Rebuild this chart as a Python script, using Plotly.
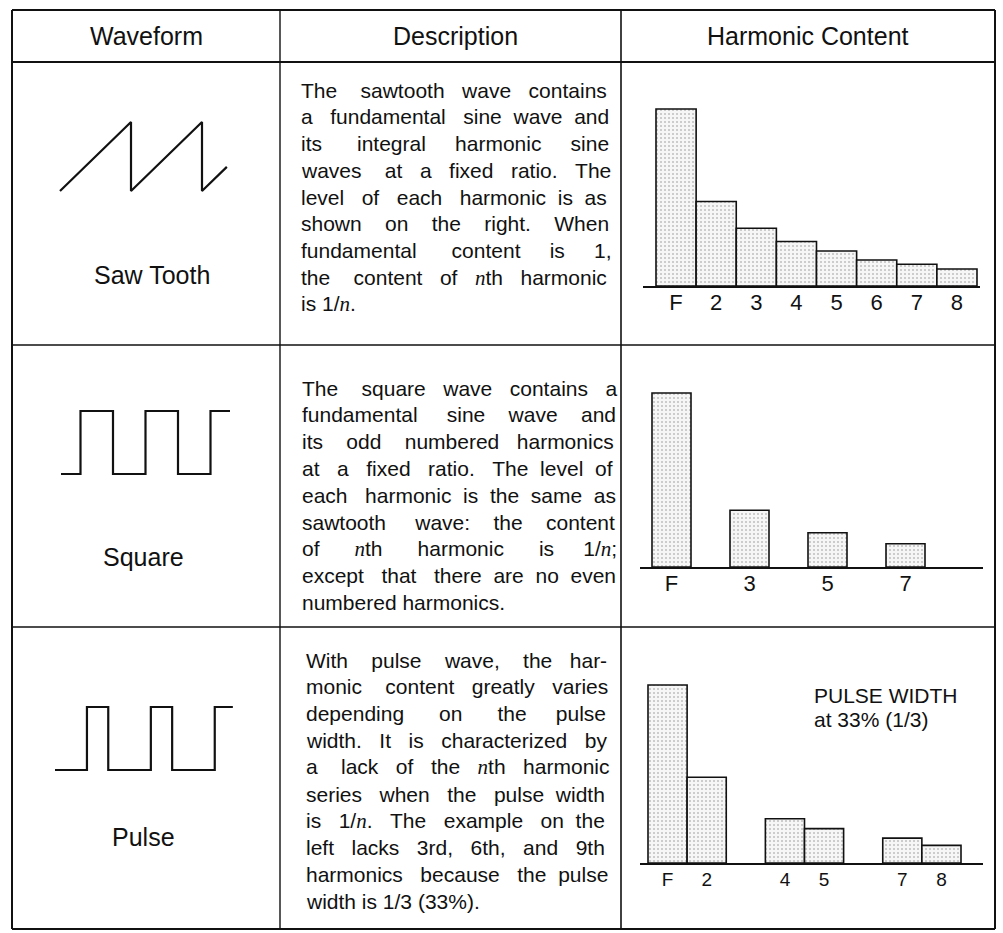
import plotly.graph_objects as go

# ---------------- data ----------------
headers = ["Waveform", "Description", "Harmonic Content"]
wave_names = ["Saw Tooth", "Square", "Pulse"]

saw_harm = [1, 2, 3, 4, 5, 6, 7, 8]
saw_labels = ["F", "2", "3", "4", "5", "6", "7", "8"]
saw_levels = [100, 47.7, 32.6, 25.1, 19.8, 14.7, 12.3, 9.6]

sq_harm = [1, 3, 5, 7]
sq_labels = ["F", "3", "5", "7"]
sq_levels = [100, 32.6, 19.7, 13.4]

pul_harm = [1, 2, 4, 5, 7, 8]
pul_labels = ["F", "2", "4", "5", "7", "8"]
pul_levels = [100, 48.2, 24.9, 19.3, 14.0, 9.9]

saw_t = [0, 1, 1, 2, 2, 2.35]
saw_v = [0, 1, 0, 1, 0, 0.35]
sq_t = [0, 0.6, 0.6, 1.6, 1.6, 2.6, 2.6, 3.6, 3.6, 4.6, 4.6, 5.2]
sq_v = [0, 0, 1, 1, 0, 0, 1, 1, 0, 0, 1, 1]
pul_t = [0, 1.5, 1.5, 2.5, 2.5, 4.5, 4.5, 5.5, 5.5, 7.5, 7.5, 8.35]
pul_v = [0, 0, 1, 1, 0, 0, 1, 1, 0, 0, 1, 1]

desc_saw = [
    "The sawtooth wave contains",
    "a fundamental sine wave and",
    "its integral harmonic sine",
    "waves at a fixed ratio. The",
    "level of each harmonic is as",
    "shown on the right. When",
    "fundamental content is 1,",
    "the content of {n}th harmonic",
    "is 1/{n}.",
]
desc_sq = [
    "The square wave contains a",
    "fundamental sine wave and",
    "its odd numbered harmonics",
    "at a fixed ratio. The level of",
    "each harmonic is the same as",
    "sawtooth wave: the content",
    "of {n}th harmonic is 1/{n};",
    "except that there are no even",
    "numbered harmonics.",
]
desc_pul = [
    "With pulse wave, the har-",
    "monic content greatly varies",
    "depending on the pulse",
    "width. It is characterized by",
    "a lack of the {n}th harmonic",
    "series when the pulse width",
    "is 1/{n}. The example on the",
    "left lacks 3rd, 6th, and 9th",
    "harmonics because the pulse",
    "width is 1/3 (33%).",
]
pulse_note = ["PULSE WIDTH", "at 33% (1/3)"]

# ---------------- layout helpers ----------------
W, H = 1003, 933
INK = "#111111"
FONT = "Liberation Sans"


def lin_range(d0, d1, a_px, a_val, b_px, b_val):
    s = (b_val - a_val) / (b_px - a_px)
    return [a_val + (d0 - a_px) * s, a_val + (d1 - a_px) * s]


def px_x(p):
    return p / W


def px_y(p):
    return 1 - p / H


ARIAL = {' ': 278, '!': 278, '(': 333, ')': 333, ',': 278, '-': 333, '.': 278,
         '/': 278, ':': 278, ';': 278, '%': 889, '\x00': 500}
for c in "0123456789":
    ARIAL[c] = 556
ARIAL.update(dict(zip("ABCDEFGHIJKLMNOPQRSTUVWXYZ",
                      [667, 667, 722, 722, 667, 611, 778, 722, 278, 500, 667, 556, 833,
                       722, 778, 667, 778, 722, 667, 611, 722, 667, 944, 667, 667, 611])))
ARIAL.update(dict(zip("abcdefghijklmnopqrstuvwxyz",
                      [556, 556, 500, 556, 556, 278, 556, 556, 222, 222, 500, 222, 833,
                       556, 556, 556, 556, 333, 500, 278, 556, 500, 722, 500, 500, 500])))


def twidth(s, size):
    return sum(ARIAL.get(c, 556) for c in s.replace("{n}", "\x00")) * size / 1000.0


ITAL_N = "<span style=\"font-family:'Liberation Serif';font-style:italic\">n</span>"


def justify(line, target, size, last):
    words = line.split(" ")
    gaps = len(words) - 1
    if gaps == 0 or last:
        out = line.replace(" ", "\u00a0")
    else:
        extra = target - twidth(line, size)
        k = max(0, int(round(extra / (278 * size / 1000.0))))
        out = words[0]
        for i, w in enumerate(words[1:]):
            n = 1 + k // gaps + (1 if i < k % gaps else 0)
            out += "\u00a0" * n + w
    return out.replace("{n}", ITAL_N)


fig = go.Figure()

# ---------------- bar charts ----------------
bar_sets = [
    (saw_harm, saw_levels, saw_labels, 22, -4,
     dict(dom=(643, 980), xa=(656, 0.5), xb=(977, 8.5), base=286, top=109, dtop=100)),
    (sq_harm, sq_levels, sq_labels, 22, -4,
     dict(dom=(640, 983), xa=(652, 0.5), xb=(925, 7.5), base=567, top=393, dtop=380)),
    (pul_harm, pul_levels, pul_labels, 19, -1,
     dict(dom=(640, 983), xa=(648, 0.5), xb=(961, 8.5), base=863, top=685, dtop=675)),
]

layout_axes = {}
for i, (hx, lv, lab, fsz, stand, g) in enumerate(bar_sets):
    n = i + 1
    xs = "x" if n == 1 else f"x{n}"
    ys = "y" if n == 1 else f"y{n}"
    fig.add_trace(go.Bar(
        x=hx, y=lv, width=[1] * len(hx), xaxis=xs, yaxis=ys,
        marker=dict(color="#f3f3f3", line=dict(color=INK, width=1.6),
                    pattern=dict(shape=".", fgcolor="#8c8c8c", bgcolor="#f6f6f6",
                                 size=4, solidity=0.22)),
        hoverinfo="skip", showlegend=False))
    xr = lin_range(g["dom"][0], g["dom"][1], g["xa"][0], g["xa"][1], g["xb"][0], g["xb"][1])
    yr = lin_range(g["base"], g["dtop"], g["base"], 0, g["top"], 100)
    kx = "xaxis" if n == 1 else f"xaxis{n}"
    ky = "yaxis" if n == 1 else f"yaxis{n}"
    layout_axes[kx] = dict(domain=[px_x(g["dom"][0]), px_x(g["dom"][1])], range=xr,
                           anchor=ys, showline=True, linecolor=INK, linewidth=1.6,
                           showgrid=False, zeroline=False, ticks="",
                           tickmode="array", tickvals=hx, ticktext=lab,
                           ticklabelstandoff=stand,
                           tickfont=dict(family=FONT, size=fsz, color=INK),
                           fixedrange=True)
    layout_axes[ky] = dict(domain=[px_y(g["base"]), px_y(g["dtop"])], range=yr,
                           anchor=xs, visible=False, fixedrange=True)

# ---------------- waveforms ----------------
wave_sets = [
    (saw_t, saw_v, dict(dx=(50, 240), xa=(60, 0), xb=(131, 1), dy=(200, 112), ya=(191, 0), yb=(122, 1))),
    (sq_t, sq_v, dict(dx=(50, 240), xa=(61, 0), xb=(93.5, 1), dy=(484, 400), ya=(474, 0), yb=(411, 1))),
    (pul_t, pul_v, dict(dx=(45, 245), xa=(55, 0), xb=(76.3, 1), dy=(780, 697), ya=(770, 0), yb=(707, 1))),
]
for j, (tx, vy, g) in enumerate(wave_sets):
    n = j + 4
    fig.add_trace(go.Scatter(x=tx, y=vy, mode="lines", xaxis=f"x{n}", yaxis=f"y{n}",
                             line=dict(color=INK, width=2.2), hoverinfo="skip",
                             showlegend=False))
    layout_axes[f"xaxis{n}"] = dict(domain=[px_x(g["dx"][0]), px_x(g["dx"][1])],
                                    range=lin_range(g["dx"][0], g["dx"][1], g["xa"][0], g["xa"][1], g["xb"][0], g["xb"][1]),
                                    anchor=f"y{n}", visible=False, fixedrange=True)
    layout_axes[f"yaxis{n}"] = dict(domain=[px_y(g["dy"][0]), px_y(g["dy"][1])],
                                    range=lin_range(g["dy"][0], g["dy"][1], g["ya"][0], g["ya"][1], g["yb"][0], g["yb"][1]),
                                    anchor=f"x{n}", visible=False, fixedrange=True)

# ---------------- table grid ----------------
TOP, HEAD, R1, R2, BOT = 10, 62, 345, 627, 929
LEFT, C1, C2, RIGHT = 12, 280, 621, 995
shapes = []
for yv, w in [(TOP, 2), (HEAD, 1.8), (R1, 1.6), (R2, 1.6), (BOT, 2)]:
    shapes.append(dict(type="line", xref="paper", yref="paper", x0=px_x(LEFT), x1=px_x(RIGHT),
                       y0=px_y(yv), y1=px_y(yv), line=dict(color=INK, width=w)))
for xv, w in [(LEFT, 2), (C1, 1.4), (C2, 1.6), (RIGHT, 2)]:
    shapes.append(dict(type="line", xref="paper", yref="paper", x0=px_x(xv), x1=px_x(xv),
                       y0=px_y(TOP), y1=px_y(BOT), line=dict(color=INK, width=w)))

# ---------------- text ----------------
ann = []
for label, cx in zip(headers, [146, 455, 808]):
    ann.append(dict(text=label, x=px_x(cx), y=px_y(36), xref="paper", yref="paper",
                    xanchor="center", yanchor="middle", showarrow=False,
                    font=dict(family=FONT, size=25, color=INK)))
for label, cx, cy in zip(wave_names, [152, 143, 143], [275, 557, 837]):
    ann.append(dict(text=label, x=px_x(cx), y=px_y(cy), xref="paper", yref="paper",
                    xanchor="center", yanchor="middle", showarrow=False,
                    font=dict(family=FONT, size=25, color=INK)))

DSIZE = 21
SPACING = 26.8
for lines, x0, x1, y0 in [(desc_saw, 299, 607, 90), (desc_sq, 300, 613, 388), (desc_pul, 304, 605, 660)]:
    for k, line in enumerate(lines):
        txt = justify(line, x1 - x0, DSIZE, k == len(lines) - 1)
        ann.append(dict(text=txt, x=px_x(x0), y=px_y(y0 + k * SPACING), xref="paper", yref="paper",
                        xanchor="left", yanchor="middle", showarrow=False, align="left",
                        font=dict(family=FONT, size=DSIZE, color=INK)))

for k, line in enumerate(pulse_note):
    ann.append(dict(text=line, x=px_x(812), y=px_y(695 + k * 24), xref="paper", yref="paper",
                    xanchor="left", yanchor="middle", showarrow=False,
                    font=dict(family=FONT, size=21, color=INK)))

fig.update_layout(
    width=W, height=H, margin=dict(l=0, r=0, t=0, b=0), autosize=False,
    paper_bgcolor="white", plot_bgcolor="rgba(0,0,0,0)",
    bargap=0, showlegend=False, shapes=shapes, annotations=ann,
    **layout_axes)

fig.write_html("out.html", config={"displayModeBar": False, "staticPlot": True},
               post_script="document.body.style.margin='0';")
